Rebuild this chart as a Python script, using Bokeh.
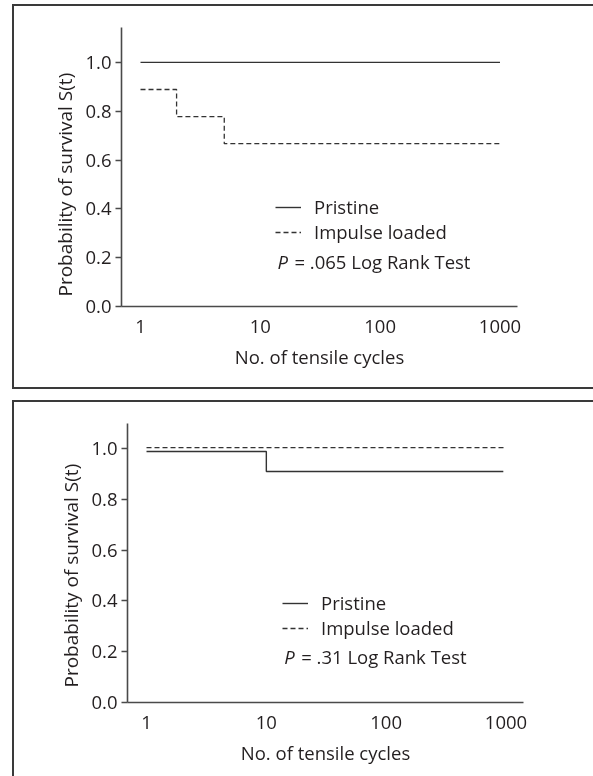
from bokeh.plotting import figure
from bokeh.models import (Range1d, FixedTicker, Legend, LegendItem, Label,
                          PrintfTickFormatter, Title, Div)
from bokeh.layouts import column
from bokeh.embed import file_html
from bokeh.resources import INLINE

# ---------------- data ----------------
x_ticks = [1, 10, 100, 1000]
x_tick_labels = ["1", "10", "100", "1000"]
y_ticks = [0.0, 0.2, 0.4, 0.6, 0.8, 1.0]
x_title = "No. of tensile cycles"
y_title = "Probability of survival S(t)"
series_names = ["Pristine", "Impulse loaded"]

# panel A (top)
a_pristine_t = [1, 1000]
a_pristine_s = [1.0, 1.0]
a_impulse_t = [1, 2, 5, 1000]
a_impulse_s = [0.889, 0.778, 0.667, 0.667]
a_p_value = ".065"

# panel B (bottom)
b_pristine_t = [1, 10, 950]
b_pristine_s = [0.988, 0.909, 0.909]
b_impulse_t = [1, 1000]
b_impulse_s = [1.003, 1.003]
b_p_value = ".31"

FONT = "Open Sans"
FS = "18.5px"
TXT = "#231f20"
AX = "#4a4a4a"
LINE = "#333333"


def make_panel(pr_t, pr_s, im_t, im_s, p_value, y_end, height,
               mb_left, mb_right, mb_top, mb_bottom, title_offset,
               p_x, p_y, leg_loc):
    p = figure(width=593, height=height, x_axis_type="log",
               x_range=Range1d(0.694, 1400), y_range=Range1d(0, y_end),
               output_backend="svg", toolbar_location=None,
               min_border_left=mb_left, min_border_right=mb_right,
               min_border_top=mb_top, min_border_bottom=mb_bottom)
    p.outline_line_color = None
    p.grid.visible = False
    p.background_fill_color = "white"
    p.border_fill_color = "white"

    r_pr = p.step(pr_t, pr_s, mode="after", line_color=LINE, line_width=1.4)
    r_im = p.step(im_t, im_s, mode="after", line_color=LINE, line_width=1.3,
                  line_dash="5 3")

    # x axis
    xa = p.xaxis[0]
    xa.ticker = FixedTicker(ticks=x_ticks)
    xa.major_label_overrides = {t: l for t, l in zip(x_ticks, x_tick_labels)}
    xa.minor_tick_line_color = None
    xa.major_tick_line_color = None
    xa.major_tick_out = 0
    xa.major_tick_in = 0
    xa.major_label_standoff = 13
    xa.axis_line_color = AX
    xa.axis_line_width = 1.6
    xa.axis_label = x_title
    xa.axis_label_standoff = 8
    xa.axis_label_text_font = FONT
    xa.axis_label_text_font_size = FS
    xa.axis_label_text_font_style = "normal"
    xa.axis_label_text_color = TXT
    xa.major_label_text_font = FONT
    xa.major_label_text_font_size = FS
    xa.major_label_text_color = TXT

    # y axis
    ya = p.yaxis[0]
    ya.ticker = FixedTicker(ticks=y_ticks)
    ya.formatter = PrintfTickFormatter(format="%.1f")
    ya.minor_tick_line_color = None
    ya.major_tick_out = 6
    ya.major_tick_in = 0
    ya.major_tick_line_color = AX
    ya.major_tick_line_width = 1.4
    ya.axis_line_color = AX
    ya.axis_line_width = 1.6
    ya.major_label_standoff = 4
    ya.major_label_text_font = FONT
    ya.major_label_text_font_size = FS
    ya.major_label_text_color = TXT

    # y axis title (side title, anchored from the bottom of the axis)
    p.add_layout(Title(text=y_title, align="left", offset=title_offset,
                       standoff=10, text_font=FONT, text_font_size="19px",
                       text_font_style="normal", text_color=TXT), "left")

    legend = Legend(items=[LegendItem(label=series_names[0], renderers=[r_pr]),
                           LegendItem(label=series_names[1], renderers=[r_im])],
                    location=leg_loc, orientation="vertical",
                    glyph_width=26, glyph_height=24, label_height=24,
                    label_standoff=13, spacing=0, padding=0, margin=0,
                    border_line_color=None, background_fill_alpha=0,
                    label_text_font=FONT, label_text_font_size=FS,
                    label_text_color=TXT)
    p.add_layout(legend)

    p.add_layout(Label(x=p_x, y=p_y, text="P", text_font=FONT,
                       text_font_style="italic", text_font_size=FS,
                       text_color=TXT, text_baseline="middle"))
    p.add_layout(Label(x=p_x, y=p_y, x_offset=17,
                       text="= " + p_value + " Log Rank Test",
                       text_font=FONT, text_font_size=FS,
                       text_color=TXT, text_baseline="middle"))
    return p


# each panel is its own root, pinned to the viewport
p1 = make_panel(a_pristine_t, a_pristine_s, a_impulse_t, a_impulse_s, a_p_value,
                1.143, 388, 121, 76, 27, 82, 10, 13.9, 0.184, (154, 62))
p2 = make_panel(b_pristine_t, b_pristine_s, b_impulse_t, b_impulse_s, b_p_value,
                1.098, 387, 127, 70, 35, 73, 15, 14.1, 0.18, (155, 62))

root1 = column(p1, styles={"position": "fixed", "left": "0px", "top": "0px"})
root2 = column(p2, styles={"position": "fixed", "left": "0px", "top": "388px"})

frames = Div(width=0, height=0, text=(
    '<div style="position:fixed;left:12px;top:4px;width:581px;height:385px;'
    'box-sizing:border-box;border:2px solid #3a3a3a;border-right:none;'
    'pointer-events:none;z-index:10"></div>'
    '<div style="position:fixed;left:12px;top:400px;width:581px;height:376px;'
    'box-sizing:border-box;border:2px solid #3a3a3a;border-right:none;'
    'border-bottom:none;pointer-events:none;z-index:10"></div>'))

open("out.html", "w").write(file_html([root1, root2, frames], INLINE))
